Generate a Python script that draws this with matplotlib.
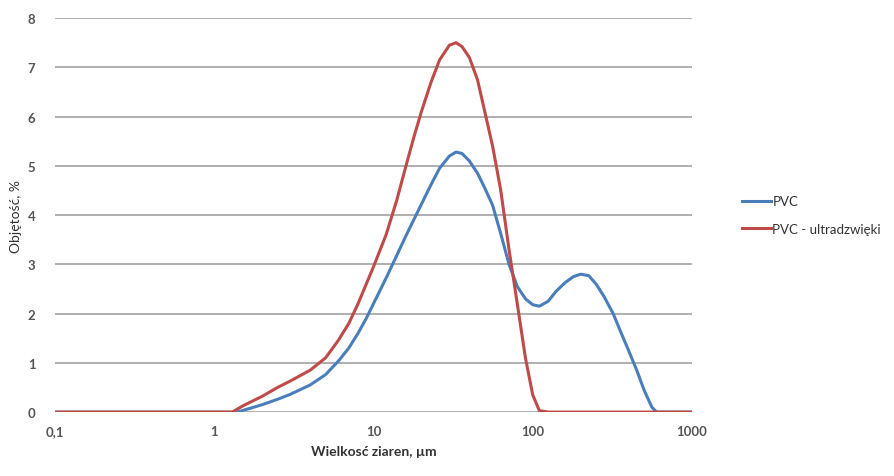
import matplotlib
matplotlib.use("Agg")
from matplotlib import pyplot as plt
from matplotlib.ticker import FixedLocator, FixedFormatter, NullLocator

# grain size, um
size_pvc = [0.1, 1.0, 1.2, 1.4, 1.5, 2, 2.5, 3, 4, 5, 6, 7, 8, 9, 10, 12, 14, 16, 18, 20, 23,
            26, 30, 33, 36, 40, 45, 50, 56, 63, 71, 80, 90, 100, 110, 125, 140, 160, 180,
            200, 225, 250, 280, 320, 360, 400, 450, 500, 560, 600, 1000]
vol_pvc = [0, 0, 0, 0, 0.03, 0.15, 0.26, 0.36, 0.55, 0.76, 1.03, 1.3, 1.6, 1.9, 2.2, 2.72,
           3.18, 3.58, 3.92, 4.22, 4.62, 4.95, 5.2, 5.28, 5.25, 5.1, 4.85, 4.55, 4.2, 3.62,
           3.0, 2.55, 2.3, 2.18, 2.15, 2.25, 2.45, 2.63, 2.75, 2.8, 2.77, 2.6, 2.35, 2.0,
           1.6, 1.25, 0.85, 0.45, 0.1, 0, 0]

size_us = [0.1, 1.0, 1.2, 1.3, 1.5, 2, 2.5, 3, 4, 5, 6, 7, 8, 10, 12, 14, 16, 18, 20, 23, 26,
           30, 33, 36, 40, 45, 50, 56, 63, 71, 80, 90, 100, 110, 125, 1000]
vol_us = [0, 0, 0, 0, 0.12, 0.32, 0.5, 0.63, 0.85, 1.1, 1.45, 1.8, 2.2, 2.95, 3.6, 4.3, 5.0,
          5.6, 6.1, 6.7, 7.15, 7.45, 7.5, 7.42, 7.2, 6.75, 6.1, 5.4, 4.5, 3.3, 2.2, 1.1,
          0.35, 0.03, 0, 0]

x_ticks = [0.1, 1, 10, 100, 1000]
x_labels = ["0,1", "1", "10", "100", "1000"]
y_ticks = list(range(0, 9))

plt.rcParams['font.family'] = ['Lato', 'DejaVu Sans']

fig = plt.figure(figsize=(8.94, 4.77), dpi=100)
ax = fig.add_axes([0.0615, 0.134, 0.7125, 0.826])

ax.plot(size_pvc, vol_pvc, color='#4a7ebb', lw=2.2, label='PVC', zorder=3,
        solid_joinstyle='round')
ax.plot(size_us, vol_us, color='#be4b48', lw=2.2, label='PVC - ultradzwięki', zorder=3,
        solid_joinstyle='round')

ax.set_xscale('log')
ax.set_xlim(0.1, 1000)
ax.set_ylim(0, 8)
ax.xaxis.set_major_locator(FixedLocator(x_ticks))
ax.xaxis.set_major_formatter(FixedFormatter(x_labels))
ax.xaxis.set_minor_locator(NullLocator())
ax.set_yticks(y_ticks)
ax.grid(axis='y', color='#9a9a9a', lw=1.1)
ax.set_axisbelow(True)
for s in ax.spines.values():
    s.set_visible(False)
ax.tick_params(length=0, labelsize=9.5, colors='#555555', pad=9)
ax.tick_params(axis='y', pad=14)
for t in ax.get_xticklabels() + ax.get_yticklabels():
    t.set_fontweight('bold')

ax.set_xlabel("Wielkosć ziaren, µm", fontsize=10, fontweight='bold', color='#333333', labelpad=6)
ax.set_ylabel("Objętość, %", fontsize=10, color='#333333', labelpad=4)

ax.legend(loc='center left', bbox_to_anchor=(1.06, 0.5), frameon=False, fontsize=9.5,
          handlelength=2.2, handletextpad=0.1, labelspacing=1.2, labelcolor='#333333')

fig.savefig('out.png', dpi=100)
